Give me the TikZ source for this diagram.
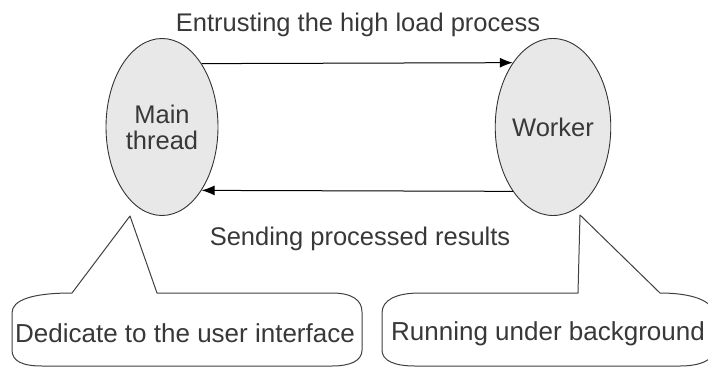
\documentclass[tikz,border=0pt]{standalone}
\usepackage{fontspec}
\setmainfont{Liberation Sans}
\usetikzlibrary{shapes.geometric,arrows.meta}

\begin{document}
\begin{tikzpicture}[x=1pt,y=-1pt,
  thread/.style={ellipse, draw=black!80, fill=black!9, line width=0.9pt,
    minimum width=112pt, minimum height=177pt, inner sep=0pt,
    font=\fontsize{25.5}{26}\selectfont, text=black!78, align=center},
  txt/.style={font=\fontsize{25.5}{26}\selectfont, text=black!78, anchor=base, inner sep=0pt},
  note/.style={txt, font=\fontsize{26}{27}\selectfont},
  flow/.style={draw=black, line width=1pt, -{Latex[length=13pt,width=10pt]}},
  callout/.style={draw=black!75, line width=1pt, line join=round}]
\useasboundingbox (0,0) rectangle (708,369);
\clip (0,0) rectangle (708,369);
\fill[white] (0,0) rectangle (708,369);

% the two threads
\node[thread] (main) at (162,127) {Main\\thread};
\node[thread] (worker) at (553,127) {Worker};

% messages between them
\draw[flow] (main.58) -- (worker.122);
\draw[flow] (worker.238) -- (main.302);
\node[txt] (entrust) at (358,32) {Entrusting the high load process};
\node[txt] (send) at (360,245) {Sending processed results};

% callout tips
\coordinate (ltip) at (130,216);
\coordinate (rtip) at (580,215);

% callout for the main thread
\draw[callout] (72,293) -- (ltip) -- (157,293) -- (332,293)
  .. controls (352,293) and (362,300) .. (362,312) -- (362,350)
  .. controls (362,361) and (350,366) .. (332,366) -- (42,366)
  .. controls (22,366) and (12,361) .. (12,350) -- (12,313)
  .. controls (12,300) and (32,293) .. cycle;
\node[note] (ui) at (185,342) {Dedicate to the user interface};

% callout for the worker
\draw[callout] (578,293) -- (rtip) -- (660,293)
  .. controls (690,293) and (714,300) .. (714,315) -- (714,350)
  .. controls (714,360) and (700,366) .. (680,366) -- (415,366)
  .. controls (395,366) and (382,361) .. (382,350) -- (382,313)
  .. controls (382,300) and (396,293) .. (420,293) -- cycle;
\node[note] (bg) at (548,340) {Running under background};
\end{tikzpicture}
\end{document}
